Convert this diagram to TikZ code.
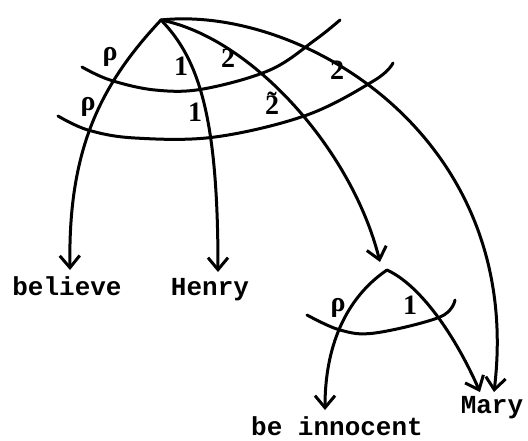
\documentclass[tikz,border=0pt]{standalone}
\usepackage{fontspec}
\usetikzlibrary{arrows.meta}
\newfontfamily\typew{Liberation Mono}
\newfontfamily\labf{Liberation Serif}
\newcommand\tildetwo{\makebox[0pt][l]{\makebox[0.5em][c]{\raisebox{0.12em}{˜}}}2}
\begin{document}
\begin{tikzpicture}[x=1pt,y=-1pt,
  arc/.style={line width=3pt, line cap=round, line join=round},
  arr/.style={arc, -{Straight Barb[length=12pt,width=20pt]}},
  word/.style={font=\typew\bfseries\fontsize{26}{30}\selectfont, inner sep=0pt, anchor=base},
  lab/.style={font=\labf\bfseries\fontsize{28}{32}\selectfont, inner sep=0pt}]
\useasboundingbox (0,0) rectangle (528,440);
% words
\node[word] (believe) at (67,295) {believe};
\node[word] (henry) at (210,295) {Henry};
\node[word] (innocent) at (337,435) {be innocent};
\node[word] (mary) at (492,413) {Mary};
% points
\coordinate (top) at (161,20);
\coordinate (tri) at (387,270);
\coordinate (tb) at (70,270);
\coordinate (th) at (218,272);
\coordinate (tt) at (380,262);
\coordinate (tm) at (494,392);
\coordinate (ti) at (325,410);
\coordinate (tmy) at (480,392);
% main arcs
\draw[arr] (top) .. controls (100,85) and (68,150) .. (tb);
\draw[arr] (top) .. controls (200,60) and (218,120) .. (th);
\draw[arr] (top) .. controls (252,38) and (352,150) .. (tt);
\draw[arr] (top) .. controls (300,5) and (525,135) .. (tm);
% cross arcs
\draw[arc] plot[smooth, tension=0.6] coordinates {(82,67) (110,80) (155,90) (203,89) (270,70) (315,40) (340,20)};
\draw[arc] plot[smooth, tension=0.6] coordinates {(58,116) (88,130) (135,138) (215,137) (307,115) (375,80) (393,63)};
% lower structure
\draw[arr] (tri) .. controls (350,295) and (325,340) .. (ti);
\draw[arr] (tri) .. controls (420,285) and (455,335) .. (tmy);
\draw[arc] plot[smooth, tension=0.6] coordinates {(307,315) (340,330) (375,333) (440,317) (455,300)};
% labels
\node[lab] (p1) at (110,57) {ρ};
\node[lab] (p2) at (88,107) {ρ};
\node[lab] (one1) at (181,66) {1};
\node[lab] (one2) at (195,112) {1};
\node[lab] (two1) at (228,58) {2};
\node[lab] (two2) at (272,103) {\tildetwo};
\node[lab] (two3) at (337,70) {2};
\node[lab] (p3) at (338,308) {ρ};
\node[lab] (one3) at (410,305) {1};
\end{tikzpicture}
\end{document}
